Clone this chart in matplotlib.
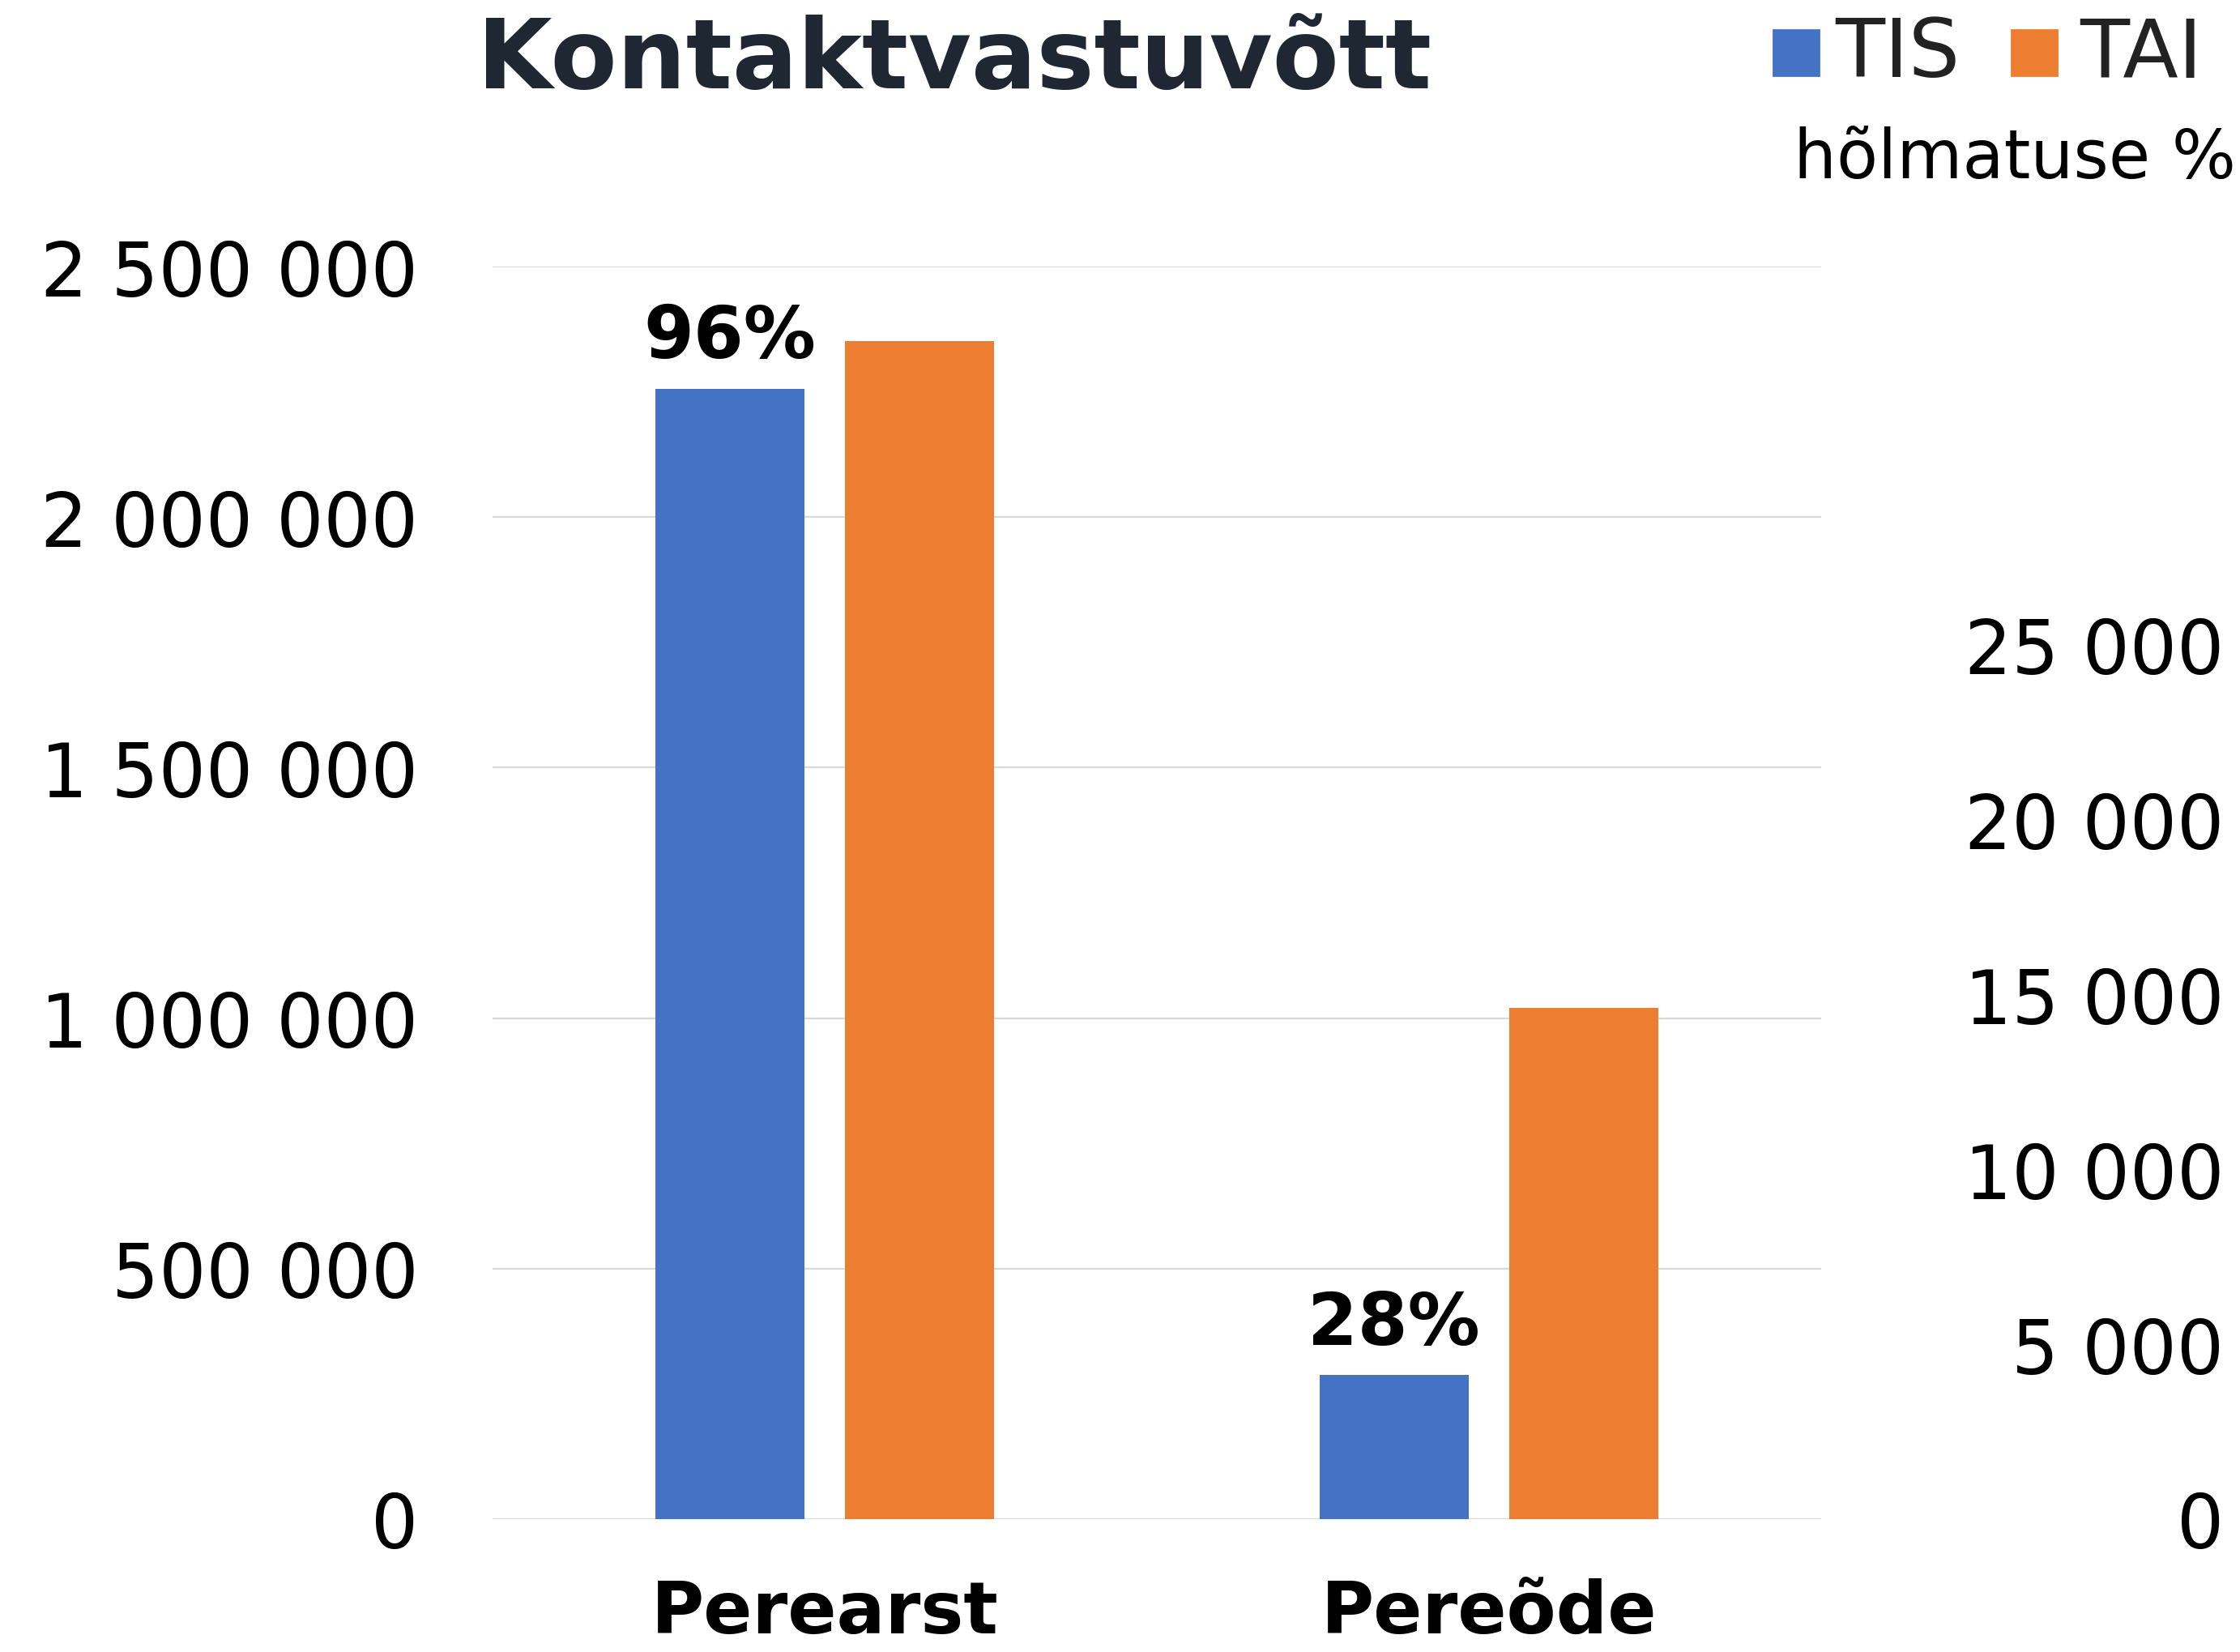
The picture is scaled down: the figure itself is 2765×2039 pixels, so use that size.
import numpy as np
import matplotlib.pyplot as plt
from matplotlib.patches import Rectangle

# Data
categories = ["Perearst", "Pereõde"]
series_names = ["TIS", "TAI"]
perearst_values = [2256000, 2352000]   # left axis
pereode_values = [4120, 14610]         # right axis
coverage_labels = ["96%", "28%"]       # TIS "hõlmatuse %"
left_ticks = [0, 500000, 1000000, 1500000, 2000000, 2500000]
right_ticks = [0, 5000, 10000, 15000, 20000, 25000]

colors = ["#4472C4", "#ED7D31"]
title_color = "#1f2733"
font = "DejaVu Sans"


def fmt(v):
    return f"{v:,}".replace(",", " ")


W, H, DPI = 2765, 2040, 200
fig = plt.figure(figsize=(W / DPI, H / DPI), dpi=DPI)
ax = fig.add_axes([608 / W, 1 - 1876 / H, (2248 - 608) / W, (1876 - 330) / H])
ax2 = ax.twinx()

x = np.arange(len(categories))
bw = 0.224
off = 0.143

# Perearst on left axis, Pereõde on right axis
for i, name in enumerate(series_names):
    sign = -1 if i == 0 else 1
    ax.bar(x[0] + sign * off, perearst_values[i], bw, color=colors[i], zorder=3)
    ax2.bar(x[1] + sign * off, pereode_values[i], bw, color=colors[i], zorder=3)

ax.set_xlim(-0.5, 1.5)
ax.set_ylim(0, 2500000)
ax2.set_ylim(0, 35800)

ax.set_yticks(left_ticks)
ax.set_yticklabels([fmt(v) for v in left_ticks], fontsize=33, fontname=font)
ax.tick_params(axis="y", length=0, pad=33)
ax.grid(axis="y", color="#d9d9d9", linewidth=0.8, zorder=0)

ax2.set_yticks(right_ticks)
ax2.set_yticklabels([fmt(v) for v in right_ticks], fontsize=33, fontname=font)
ax2.tick_params(axis="y", length=0, pad=179)
for lbl in ax2.get_yticklabels():
    lbl.set_horizontalalignment("right")

ax.set_xticks(x)
ax.set_xticklabels(categories, fontsize=32, fontweight="bold", fontname=font)
ax.tick_params(axis="x", length=0, pad=26)

for a in (ax, ax2):
    for s in a.spines.values():
        s.set_visible(False)

# Coverage labels above TIS bars
ax.annotate(coverage_labels[0], (x[0] - off, perearst_values[0]),
            xytext=(0, 7), textcoords="offset points", ha="center", va="bottom",
            fontsize=32, fontweight="bold", fontname=font, color="black")
ax2.annotate(coverage_labels[1], (x[1] - off, pereode_values[0]),
             xytext=(0, 7), textcoords="offset points", ha="center", va="bottom",
             fontsize=32, fontweight="bold", fontname=font, color="black")

# Title
fig.text(1178 / W, 1 - 76 / H, "Kontaktvastuvõtt", ha="center", va="center",
         fontsize=43, fontweight="bold", fontname=font, color=title_color)

# Legend (manual)
sq_x = [2189, 2483]
txt_x = [2265, 2567]
for i, name in enumerate(series_names):
    fig.add_artist(Rectangle((sq_x[i] / W, 1 - 94 / H), 56 / W, 56 / H,
                             transform=fig.transFigure, color=colors[i]))
    fig.text(txt_x[i] / W, 1 - 68 / H, name, ha="left", va="center",
             fontsize=36, family=["Liberation Sans Narrow", "DejaVu Sans"],
             color="#222222")
fig.text(2760 / W, 1 - 220 / H, "hõlmatuse %", ha="right", va="baseline",
         fontsize=30, fontname=font, color="black")

fig.savefig("out.png", dpi=DPI)
